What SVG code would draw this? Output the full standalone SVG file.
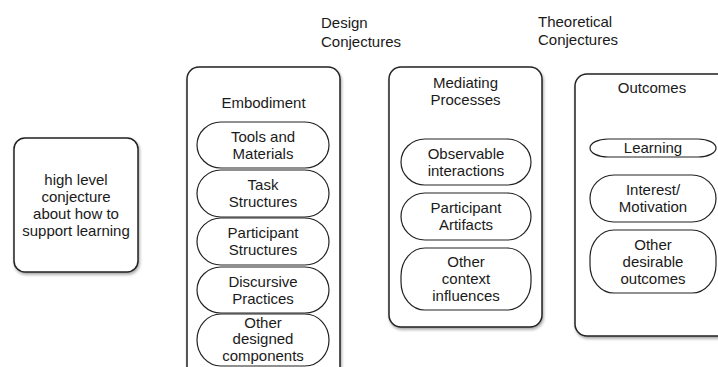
<svg xmlns="http://www.w3.org/2000/svg" width="718" height="367" viewBox="0 0 718 367">
<defs>
<filter id="sh" x="-10%" y="-10%" width="130%" height="130%">
<feDropShadow dx="1" dy="2" stdDeviation="1.5" flood-color="#000" flood-opacity="0.35"/>
</filter>
</defs>
<style>
text{font-family:"Liberation Sans",Arial,Helvetica,sans-serif;font-size:15px;fill:#1a1a1a;text-anchor:middle}
.hdr{text-anchor:start}
.box{fill:#fff;stroke:#222;stroke-width:1.5;filter:url(#sh)}
.pill{fill:#fff;stroke:#222;stroke-width:1.2}
</style>
<rect width="718" height="367" fill="#fff"/>
<g id="headers">
<text class="hdr" x="321" y="28">Design</text>
<text class="hdr" x="321" y="47">Conjectures</text>
<text class="hdr" x="538" y="27">Theoretical</text>
<text class="hdr" x="538" y="45">Conjectures</text>
</g>
<g id="connectors"></g>
<g id="conjecture">
<rect class="box" x="14" y="138" width="124" height="134" rx="11"/>
<text x="76" y="184.5">high level</text>
<text x="76" y="201.5">conjecture</text>
<text x="76" y="218.5">about how to</text>
<text x="76" y="235.5">support learning</text>
</g>
<g id="embodiment">
<rect class="box" x="187" y="67" width="153" height="312" rx="12"/>
<text x="263.5" y="108">Embodiment</text>
<g id="tools">
<rect class="pill" x="197" y="122" width="132" height="46" rx="24" ry="23"/>
<text x="263" y="141.5">Tools and</text>
<text x="263" y="158.5">Materials</text>
</g>
<g id="task">
<rect class="pill" x="197" y="170" width="132" height="47" rx="24" ry="23.5"/>
<text x="263" y="190">Task</text>
<text x="263" y="207">Structures</text>
</g>
<g id="participant-structures">
<rect class="pill" x="197" y="218" width="132" height="47" rx="24" ry="23.5"/>
<text x="263" y="238">Participant</text>
<text x="263" y="255">Structures</text>
</g>
<g id="discursive">
<rect class="pill" x="197" y="267" width="132" height="46" rx="24" ry="23"/>
<text x="263" y="286.5">Discursive</text>
<text x="263" y="303.5">Practices</text>
</g>
<g id="other-designed">
<rect class="pill" x="197" y="314" width="132" height="52" rx="24" ry="26"/>
<text x="263" y="327.5">Other</text>
<text x="263" y="344">designed</text>
<text x="263" y="360.5">components</text>
</g>
</g>
<g id="mediating">
<rect class="box" x="389" y="67" width="153" height="260" rx="12"/>
<text x="465.5" y="88">Mediating</text>
<text x="465.5" y="105">Processes</text>
<g id="observable">
<rect class="pill" x="401" y="139" width="130" height="46" rx="24" ry="23"/>
<text x="466" y="158.5">Observable</text>
<text x="466" y="175.5">interactions</text>
</g>
<g id="artifacts">
<rect class="pill" x="401" y="193" width="130" height="47" rx="24" ry="23.5"/>
<text x="466" y="213">Participant</text>
<text x="466" y="230">Artifacts</text>
</g>
<g id="context">
<rect class="pill" x="401" y="248" width="130" height="62" rx="24" ry="28"/>
<text x="466" y="267">Other</text>
<text x="466" y="284">context</text>
<text x="466" y="301">influences</text>
</g>
</g>
<g id="outcomes">
<rect class="box" x="575" y="74" width="160" height="262" rx="12"/>
<text x="652" y="93">Outcomes</text>
<g id="learning">
<rect class="pill" x="590" y="139" width="126" height="18" rx="18" ry="9"/>
<text x="653" y="153">Learning</text>
</g>
<g id="interest">
<rect class="pill" x="590" y="175" width="126" height="47" rx="24" ry="23.5"/>
<text x="653" y="195">Interest/</text>
<text x="653" y="212">Motivation</text>
</g>
<g id="desirable">
<rect class="pill" x="590" y="230" width="126" height="63" rx="24" ry="28"/>
<text x="653" y="249.5">Other</text>
<text x="653" y="266.5">desirable</text>
<text x="653" y="283.5">outcomes</text>
</g>
</g>
</svg>
